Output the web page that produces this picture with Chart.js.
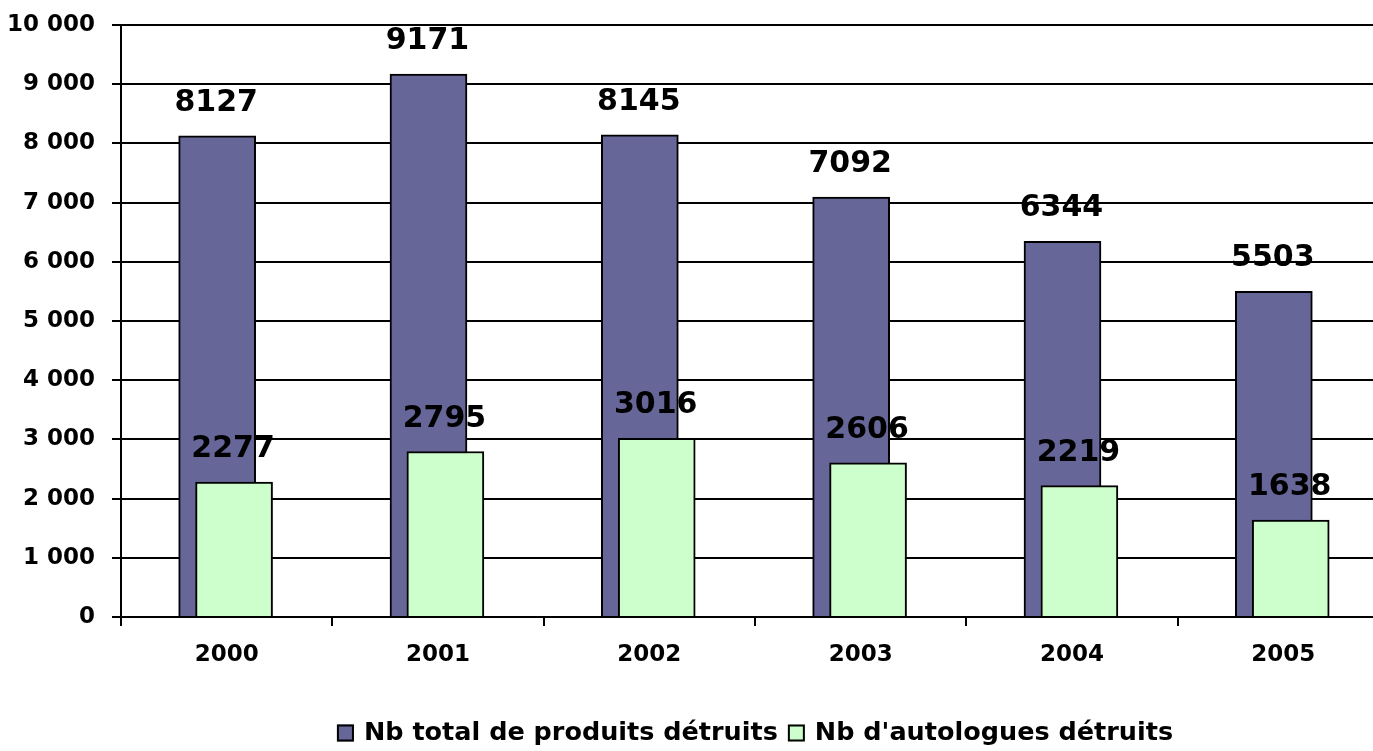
<!DOCTYPE html>
<html>
<head>
<meta charset="utf-8">
<script src="https://cdn.jsdelivr.net/npm/chart.js@4.4.1/dist/chart.umd.min.js"></script>
<style>
  html,body{margin:0;padding:0;background:#fff;overflow:hidden}
  #wrap{position:absolute;left:0;top:0;width:1510px;height:751px}
</style>
</head>
<body>
<div id="wrap"><canvas id="c" width="1510" height="751"></canvas></div>
<script>
const years = ['2000','2001','2002','2003','2004','2005']
const totalDetruits = [8127, 9171, 8145, 7092, 6344, 5503]
const autologuesDetruits = [2277, 2795, 3016, 2606, 2219, 1638]
const seriesNames = ['Nb total de produits détruits', "Nb d'autologues détruits"]
const yTicks = { min: 0, max: 10000, step: 1000 }

const C = { purple:'#666699', green:'#CCFFCC', ink:'#000000' }
const FONT = "'DejaVu Sans', Verdana, sans-serif"

const fmt = v => String(v).replace(/\B(?=(\d{3})+(?!\d))/g, ' ')

// the two series overlap, shifted a little either side of the year centre
const SHIFT_TOTAL = -0.045, SHIFT_AUTO = 0.035
const pts = (vals, dx) => vals.map((v, i) => ({ x: i + dx, y: v }))

// values above each bar
const valueLabels = {
  id:'valueLabels',
  afterDatasetsDraw(chart){
    const ctx = chart.ctx
    ctx.save()
    ctx.font = `bold 30px ${FONT}`
    ctx.fillStyle = C.ink
    ctx.textAlign = 'center'
    ctx.textBaseline = 'alphabetic'
    chart.data.datasets.forEach((ds, di) => {
      chart.getDatasetMeta(di).data.forEach((bar, i) => {
        ctx.fillText(String(ds.data[i].y), bar.x - 1, bar.y - 25)
      })
    })
    ctx.restore()
  }
}

// legend drawn at the bottom
const bottomLegend = {
  id:'bottomLegend',
  afterDraw(chart){
    const ctx = chart.ctx
    ctx.save()
    ctx.font = `bold 25.5px ${FONT}`
    const box = 17, gapBox = 10, gapItem = 10
    const items = chart.data.datasets.map(ds => ({ label: ds.label, color: ds.backgroundColor, w: ctx.measureText(ds.label).width }))
    const total = items.reduce((s, it) => s + box + gapBox + it.w, 0) + gapItem * (items.length - 1)
    let x = chart.width / 2 - total / 2
    const yMid = 733
    items.forEach(it => {
      ctx.fillStyle = it.color
      ctx.fillRect(x, yMid - box / 2, box, box)
      ctx.lineWidth = 2
      ctx.strokeStyle = C.ink
      ctx.strokeRect(x + 1, yMid - box / 2 + 1, box - 2, box - 2)
      x += box + gapBox
      ctx.fillStyle = C.ink
      ctx.textAlign = 'left'
      ctx.textBaseline = 'middle'
      ctx.fillText(it.label, x, yMid)
      x += it.w + gapItem
    })
    ctx.restore()
  }
}

new Chart(document.getElementById('c'), {
  type:'bar',
  data:{
    labels: years,
    datasets:[
      { label: seriesNames[0], data: pts(totalDetruits, SHIFT_TOTAL), xAxisID:'xb', order:1,
        backgroundColor: C.purple, borderColor: C.ink, borderWidth: 2 },
      { label: seriesNames[1], data: pts(autologuesDetruits, SHIFT_AUTO), xAxisID:'xb', order:0,
        backgroundColor: C.green, borderColor: C.ink, borderWidth: 2 }
    ]
  },
  options:{
    responsive:false, animation:false,
    grouped:false, barThickness:77,
    layout:{ padding:{ top:25, right:121, left:0, bottom:0 } },
    plugins:{ legend:{display:false}, tooltip:{enabled:false} },
    scales:{
      xb:{ type:'linear', display:false, offset:false, min:-0.5, max:5.5 },
      x:{
        type:'category',
        grid:{ offset:true, drawOnChartArea:false, color:C.ink, lineWidth:2, tickLength:9 },
        border:{ color:C.ink, width:2 },
        ticks:{ color:C.ink, font:{family:FONT, size:23, weight:'bold'}, padding:15, maxRotation:0 },
        afterFit(s){ s.height = 134 }
      },
      y:{
        min: yTicks.min, max: yTicks.max,
        grid:{ color:C.ink, lineWidth:2, tickLength:9 },
        border:{ color:C.ink, width:2 },
        ticks:{ stepSize: yTicks.step, color:C.ink, font:{family:FONT, size:23, weight:'bold'}, padding:17, callback: v => fmt(v) },
        afterFit(s){ s.width = 121; s.paddingTop = 0; s.paddingBottom = 0 }
      }
    }
  },
  plugins:[valueLabels, bottomLegend]
})
</script>
</body>
</html>
